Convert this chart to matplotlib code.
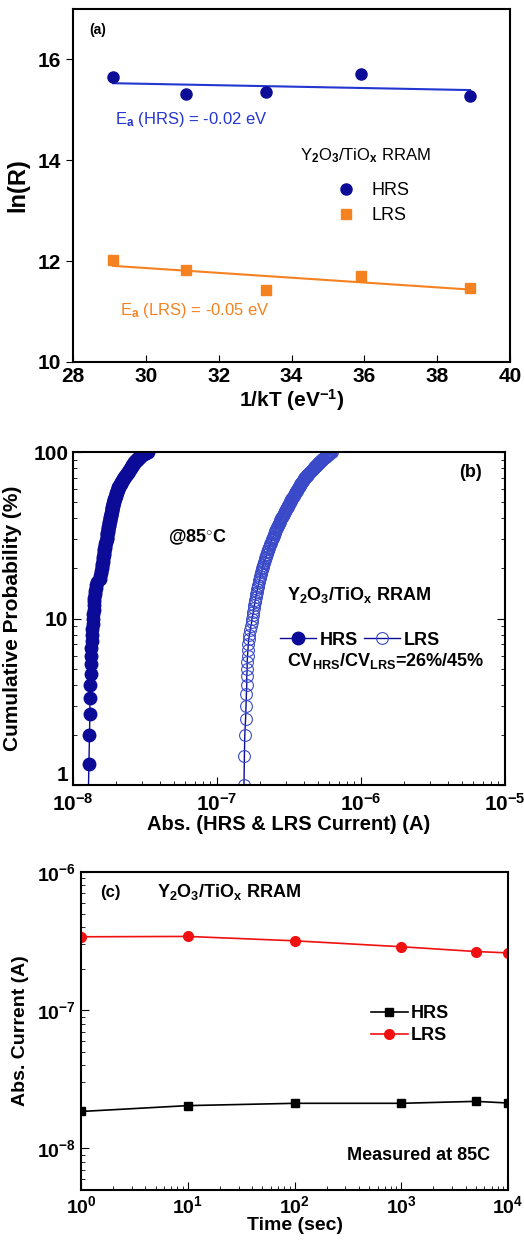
import numpy as np
import matplotlib
matplotlib.use('Agg')
import matplotlib.pyplot as plt
from matplotlib.ticker import FuncFormatter, LogLocator, NullFormatter, MultipleLocator

plt.rcParams['font.family'] = ['Liberation Sans', 'DejaVu Sans']
plt.rcParams['font.weight'] = 'bold'
plt.rcParams['axes.labelweight'] = 'bold'
plt.rcParams['mathtext.fontset'] = 'custom'
plt.rcParams['mathtext.rm'] = 'Liberation Sans'
plt.rcParams['mathtext.bf'] = 'Liberation Sans:bold'
plt.rcParams['mathtext.it'] = 'Liberation Sans:italic'
plt.rcParams['mathtext.default'] = 'bf'
plt.rcParams['axes.unicode_minus'] = False
plt.rcParams['axes.linewidth'] = 1.5

# (a) Arrhenius plot
inv_kT = [29.1, 31.1, 33.3, 35.9, 38.9]
lnR_hrs = [15.65, 15.32, 15.36, 15.72, 15.28]
lnR_lrs = [12.02, 11.82, 11.43, 11.70, 11.47]

# (b) current distributions at 85C (sorted readings)
hrs_85 = [1.27, 1.29, 1.30, 1.31, 1.31, 1.32, 1.33,
          1.33, 1.34, 1.34, 1.35, 1.35, 1.36, 1.37, 1.38,
          1.38, 1.39, 1.39, 1.40, 1.41, 1.42, 1.43, 1.44, 1.45, 1.47,
          1.53, 1.55, 1.56, 1.57, 1.58,
          1.59, 1.60, 1.61, 1.61, 1.62, 1.63, 1.64, 1.65, 1.65, 1.66, 1.67, 1.68, 1.69, 1.70, 1.71,
          1.71, 1.72, 1.72, 1.73, 1.74, 1.74, 1.75, 1.76, 1.77, 1.77, 1.78, 1.79, 1.80, 1.80, 1.81,
          1.82, 1.83, 1.83, 1.84, 1.85, 1.86,
          1.86, 1.87, 1.88, 1.88, 1.89, 1.90, 1.91, 1.91, 1.92, 1.93, 1.94, 1.94, 1.95, 1.96, 1.97,
          1.98, 1.98, 1.99, 2.00, 2.01, 2.02, 2.03, 2.04, 2.05, 2.06,
          2.07, 2.08, 2.10, 2.11, 2.12, 2.14, 2.15, 2.17, 2.18, 2.20, 2.21, 2.23, 2.24, 2.26, 2.27,
          2.29, 2.30, 2.32, 2.34, 2.36, 2.38, 2.40, 2.42,
          2.43, 2.45, 2.46, 2.48, 2.49, 2.51, 2.52, 2.54, 2.55, 2.57, 2.58, 2.60, 2.61, 2.63, 2.64,
          2.66, 2.68, 2.70, 2.72, 2.74, 2.77, 2.80,
          2.82, 2.84, 2.86, 2.88, 2.90, 2.93, 2.96, 2.99, 3.02, 3.06, 3.10, 3.15, 3.21, 3.30]  # x1e-8 A
lrs_85 = [1.50, 1.54, 1.55, 1.56, 1.58, 1.59, 1.60, 1.61, 1.61,
          1.62, 1.62, 1.63, 1.64, 1.65,
          1.66, 1.68, 1.70, 1.72, 1.74, 1.75, 1.77, 1.79,
          1.80, 1.82, 1.83, 1.85, 1.86, 1.88, 1.89, 1.91, 1.92, 1.94, 1.95, 1.97, 1.99,
          2.00, 2.02, 2.03, 2.05, 2.07, 2.08, 2.10, 2.12, 2.13, 2.15, 2.17, 2.18, 2.20, 2.22, 2.24,
          2.25, 2.27, 2.29, 2.31, 2.33,
          2.34, 2.36, 2.38, 2.40, 2.41, 2.43, 2.45, 2.47, 2.49, 2.51, 2.53, 2.54, 2.56, 2.58, 2.60,
          2.62, 2.64, 2.66, 2.68, 2.70, 2.72, 2.74, 2.76, 2.78, 2.80, 2.82, 2.84, 2.86, 2.88, 2.90,
          2.92, 2.95, 2.97,
          2.99, 3.01, 3.03, 3.05, 3.07, 3.09, 3.11, 3.13, 3.15, 3.17, 3.19, 3.21, 3.23, 3.25, 3.27,
          3.29, 3.31, 3.33, 3.36, 3.38, 3.40, 3.42, 3.44, 3.46, 3.48, 3.50, 3.52, 3.55, 3.57, 3.59,
          3.61, 3.63, 3.65, 3.67, 3.69, 3.71, 3.74, 3.76, 3.78, 3.80, 3.82, 3.84, 3.86, 3.88, 3.90,
          3.93, 3.95, 3.97, 3.99, 4.01, 4.04, 4.07,
          4.11, 4.14, 4.17, 4.20, 4.23, 4.26, 4.29, 4.32, 4.35, 4.38, 4.41, 4.44, 4.47, 4.50, 4.53,
          4.56, 4.59, 4.62, 4.66, 4.69, 4.72, 4.75, 4.79, 4.82, 4.85, 4.88, 4.92, 4.95, 4.98, 5.02,
          5.05, 5.08, 5.12, 5.15, 5.19, 5.22, 5.26, 5.29, 5.33, 5.36, 5.40, 5.44, 5.47, 5.51, 5.55,
          5.59, 5.63, 5.67, 5.71, 5.76,
          5.80, 5.84, 5.88, 5.92, 5.96, 6.00, 6.05, 6.10, 6.16, 6.25]  # x1e-7 A

# (c) retention at 85C
time_s = [1, 10, 100, 1000, 5000, 10000]
i_hrs_ret = [1.85e-8, 2.04e-8, 2.12e-8, 2.12e-8, 2.19e-8, 2.13e-8]
i_lrs_ret = [3.40e-7, 3.42e-7, 3.18e-7, 2.88e-7, 2.66e-7, 2.60e-7]

blue_a = '#0c0c96'
blue_line = '#2436d0'
orange = '#f58220'
navy = '#0b0b98'
lrs_blue = '#3a4ac8'

fig = plt.figure(figsize=(5.24, 12.41), dpi=100)

# ---------------- (a)
ax = fig.add_axes([0.1393, 0.7083, 0.834, 0.2844])
ax.plot(inv_kT, lnR_hrs, 'o', color=blue_a, ms=8, label='HRS', zorder=3)
ax.plot(inv_kT, lnR_lrs, 's', color=orange, ms=7.5, label='LRS', zorder=3)
xs = np.array(inv_kT)
for vals, c in [(lnR_hrs, blue_line), (lnR_lrs, orange)]:
    k, b = np.polyfit(xs, vals, 1)
    ax.plot(xs, k * xs + b, '-', color=c, lw=1.5)
ax.set_xlim(28, 40)
ax.set_ylim(10, 17)
ax.xaxis.set_major_locator(MultipleLocator(2))
ax.set_yticks([10, 12, 14, 16])
ax.tick_params(axis='x', direction='in', labelsize=15, length=5)
ax.tick_params(axis='y', direction='out', labelsize=15, length=5)
ax.set_xlabel('1/kT (eV$^{-1}$)', fontsize=15, labelpad=1)
ax.set_ylabel('ln(R)', fontsize=17, labelpad=6)
ax.text(0.037, 0.94, '(a)', transform=ax.transAxes, fontsize=10, va='center')
ax.text(0.096, 0.686, r'E$_\mathrm{a}$ (HRS) = -0.02 eV', transform=ax.transAxes,
        fontsize=12, fontweight='normal', color=blue_line, va='center')
ax.text(0.107, 0.147, r'E$_\mathrm{a}$ (LRS) = -0.05 eV', transform=ax.transAxes,
        fontsize=12, fontweight='normal', color=orange, va='center')
ax.text(0.519, 0.586, r'Y$_\mathrm{2}$O$_\mathrm{3}$/TiO$_\mathrm{x}$ RRAM', transform=ax.transAxes,
        fontsize=12, fontweight='normal', va='center')
ax.legend(loc='center left', bbox_to_anchor=(0.605, 0.45), frameon=False, handlelength=1,
          handletextpad=0.9, labelspacing=0.45, borderpad=0, borderaxespad=0,
          prop={'size': 13, 'weight': 'normal'})

# ---------------- (b)
ax_b = fig.add_axes([0.1393, 0.3674, 0.8244, 0.2683])
ax = ax_b
hrs_sorted = np.sort(np.array(hrs_85) * 1e-8)
lrs_sorted = np.sort(np.array(lrs_85) * 1e-7)
p_hrs = np.arange(1, len(hrs_sorted) + 1) / len(hrs_sorted) * 100
p_lrs = np.arange(1, len(lrs_sorted) + 1) / len(lrs_sorted) * 100
ax.plot(hrs_sorted, p_hrs, '-o', color=navy, ms=9, lw=1, label='HRS')
ax.plot(lrs_sorted, p_lrs, '-o', color=navy, mfc='none', mec=lrs_blue, mew=0.8, ms=8.5,
        lw=1, label='LRS')
ax.set_xscale('log')
ax.set_yscale('log')
ax.set_xlim(1e-8, 1e-5)
ax.set_ylim(1, 100)
ax.yaxis.set_major_formatter(FuncFormatter(lambda v, pos: '%g' % v))
ax.yaxis.set_minor_formatter(NullFormatter())
ax.xaxis.set_minor_locator(LogLocator(base=10, subs=np.arange(2, 10)))
ax.tick_params(which='both', direction='in', right=True, labelsize=15)
ax.tick_params(axis='x', pad=6)
ax.tick_params(which='major', length=6)
ax.tick_params(which='minor', length=3)
ax.set_xlabel('Abs. (HRS & LRS Current) (A)', fontsize=14.5, labelpad=0)
ax.set_ylabel('Cumulative Probability (%)', fontsize=15, labelpad=8)
ax.text(0.895, 0.94, '(b)', transform=ax.transAxes, fontsize=13, va='center')
ax.text(0.22, 0.745, r'@85$^{\circ}$C', transform=ax.transAxes, fontsize=13, va='center')
ax.text(0.495, 0.57, 'Y$_2$O$_3$/TiO$_x$ RRAM', transform=ax.transAxes, fontsize=13, va='center')
ax.legend(loc='center left', bbox_to_anchor=(0.48, 0.435), ncol=2, frameon=False,
          handlelength=2, handletextpad=0.2, columnspacing=0.3, borderpad=0,
          borderaxespad=0, prop={'size': 13, 'weight': 'bold'})
ax.text(0.495, 0.372, r'CV$_\mathrm{HRS}$/CV$_\mathrm{LRS}$=26%/45%', transform=ax.transAxes,
        fontsize=13, va='center')

# ---------------- (c)
ax = fig.add_axes([0.1546, 0.0411, 0.815, 0.2562])
ax.plot(time_s, i_hrs_ret, '-s', color='black', ms=6, lw=1.2, label='HRS')
ax.plot(time_s, i_lrs_ret, '-o', color='#f01010', ms=7, lw=1.2, label='LRS')
ax.set_xscale('log')
ax.set_yscale('log')
ax.set_xlim(1, 1e4)
ax.set_ylim(5e-9, 1e-6)
ax.xaxis.set_minor_locator(LogLocator(base=10, subs=np.arange(2, 10)))
ax.yaxis.set_minor_locator(LogLocator(base=10, subs=np.arange(2, 10)))
ax.tick_params(which='both', direction='in', labelsize=14)
ax.tick_params(which='major', length=6)
ax.tick_params(which='minor', length=3)
ax.set_xlabel('Time (sec)', fontsize=14, labelpad=0)
ax.set_ylabel('Abs. Current (A)', fontsize=14, labelpad=6)
ax.text(0.044, 0.937, '(c)', transform=ax.transAxes, fontsize=12, va='center')
ax.text(0.178, 0.937, 'Y$_2$O$_3$/TiO$_x$ RRAM', transform=ax.transAxes, fontsize=13, va='center')
ax.text(0.958, 0.11, 'Measured at 85C', transform=ax.transAxes, fontsize=13, va='center',
        ha='right')
ax.legend(loc='center left', bbox_to_anchor=(0.68, 0.52), frameon=False, handlelength=2,
          handletextpad=0.2, labelspacing=0.3, borderpad=0, borderaxespad=0,
          prop={'size': 13, 'weight': 'bold'})

# lift the "1" label of (b) a little so it clears the 10^-8 label
fig.canvas.draw()
for lbl in ax_b.get_yticklabels():
    if lbl.get_text() == '1':
        lbl.set_va('bottom')

fig.savefig('out.png', dpi=100)
